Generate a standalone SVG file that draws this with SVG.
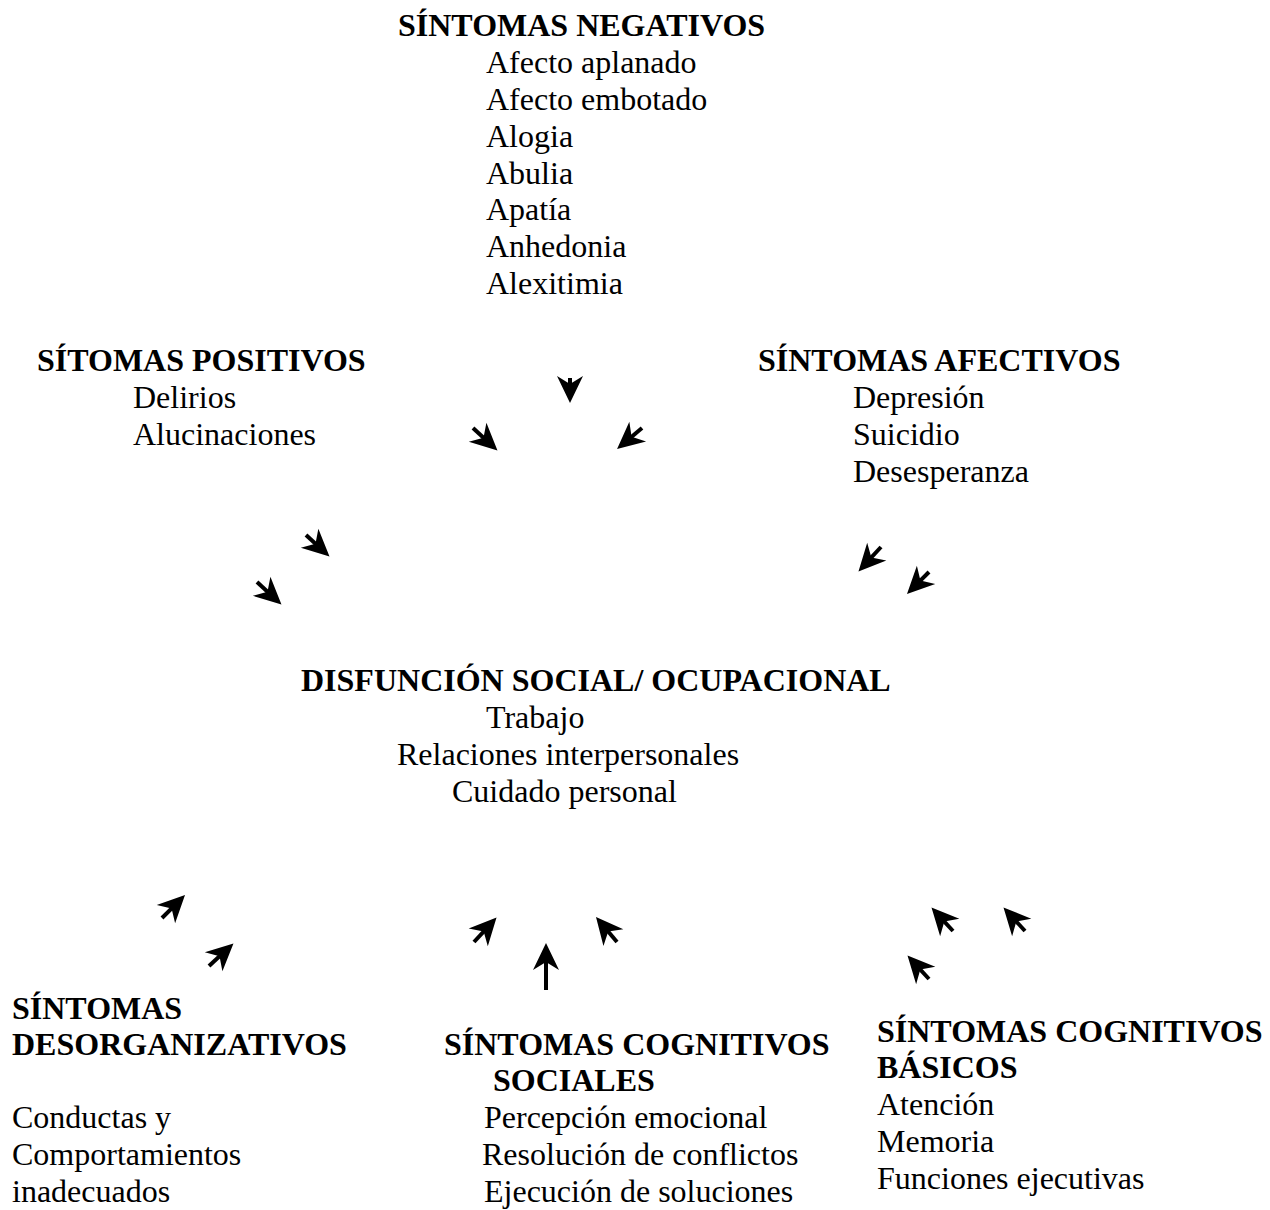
<svg xmlns="http://www.w3.org/2000/svg" width="1270" height="1210" viewBox="0 0 1270 1210">
<style>
text{font-family:"Liberation Serif","Times New Roman",serif;font-size:32px;fill:#000}
.h{font-weight:bold}
.a{stroke:#000;stroke-width:4;fill:none;marker-end:url(#ah)}
</style>
<defs>
<marker id="ah" markerUnits="userSpaceOnUse" markerWidth="40" markerHeight="40" refX="0" refY="0" viewBox="-20 -20 40 40" orient="auto" overflow="visible">
<path d="M16,0 L-11,-13 L-3,0 L-11,13 Z" fill="#000"/>
</marker>
</defs>
<rect width="1270" height="1210" fill="#fff"/>
<g id="negativos">
<text class="h" x="398" y="36">SÍNTOMAS NEGATIVOS</text>
<text x="486" y="73">Afecto aplanado</text>
<text x="486" y="110">Afecto embotado</text>
<text x="486" y="147">Alogia</text>
<text x="486" y="184">Abulia</text>
<text x="486" y="220">Apatía</text>
<text x="486" y="257">Anhedonia</text>
<text x="486" y="294">Alexitimia</text>
</g>
<g id="positivos">
<text class="h" x="37" y="371">SÍTOMAS POSITIVOS</text>
<text x="133" y="408">Delirios</text>
<text x="133" y="445">Alucinaciones</text>
</g>
<g id="afectivos">
<text class="h" x="758" y="371">SÍNTOMAS AFECTIVOS</text>
<text x="853" y="408">Depresión</text>
<text x="853" y="445">Suicidio</text>
<text x="853" y="482">Desesperanza</text>
</g>
<g id="disfuncion">
<text class="h" x="301" y="691">DISFUNCIÓN SOCIAL/ OCUPACIONAL</text>
<text x="486" y="728">Trabajo</text>
<text x="397" y="765">Relaciones interpersonales</text>
<text x="452" y="802">Cuidado personal</text>
</g>
<g id="desorganizativos">
<text class="h" x="12" y="1019">SÍNTOMAS</text>
<text class="h" x="12" y="1055">DESORGANIZATIVOS</text>
<text x="12" y="1128">Conductas y</text>
<text x="12" y="1165">Comportamientos</text>
<text x="12" y="1202">inadecuados</text>
</g>
<g id="cognitivos-sociales">
<text class="h" x="444" y="1055">SÍNTOMAS COGNITIVOS</text>
<text class="h" x="493" y="1091">SOCIALES</text>
<text x="484" y="1128">Percepción emocional</text>
<text x="482" y="1165">Resolución de conflictos</text>
<text x="484" y="1202">Ejecución de soluciones</text>
</g>
<g id="cognitivos-basicos">
<text class="h" x="877" y="1042">SÍNTOMAS COGNITIVOS</text>
<text class="h" x="877" y="1078">BÁSICOS</text>
<text x="877" y="1115">Atención</text>
<text x="877" y="1152">Memoria</text>
<text x="877" y="1189">Funciones ejecutivas</text>
</g>
<g id="connectors">
<line class="a" x1="570" y1="378" x2="570" y2="387"/>
<line class="a" x1="473" y1="428" x2="485.7" y2="439.7"/>
<line class="a" x1="642" y1="428" x2="629.3" y2="438.7"/>
<line class="a" x1="306" y1="535" x2="317.7" y2="545.7"/>
<line class="a" x1="257" y1="582" x2="269.7" y2="593.7"/>
<line class="a" x1="881" y1="547" x2="869.3" y2="559.7"/>
<line class="a" x1="929" y1="572" x2="918.3" y2="582.7"/>
<line class="a" x1="162" y1="918" x2="173.7" y2="906.3"/>
<line class="a" x1="209" y1="966" x2="221.7" y2="954.3"/>
<line class="a" x1="474" y1="942" x2="485.7" y2="929.3"/>
<line class="a" x1="546" y1="990" x2="546" y2="959"/>
<line class="a" x1="617" y1="942" x2="606.3" y2="929.3"/>
<line class="a" x1="953" y1="931" x2="942.3" y2="919.3"/>
<line class="a" x1="1025" y1="931" x2="1014.3" y2="919.3"/>
<line class="a" x1="929" y1="979" x2="918.3" y2="967.3"/>
</g>
</svg>
